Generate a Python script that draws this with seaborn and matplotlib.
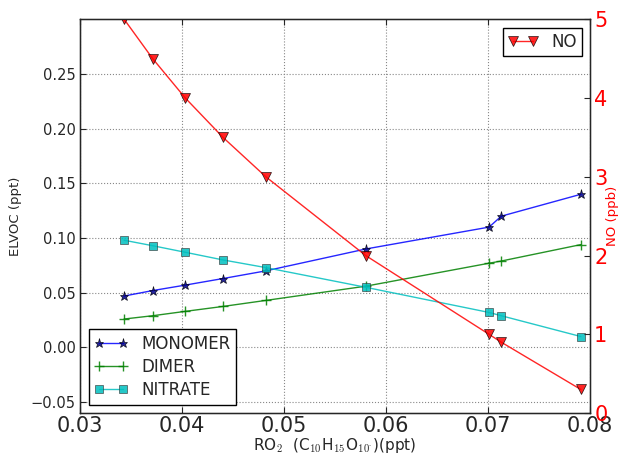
import numpy as np
import pandas as pd
import matplotlib
matplotlib.use('Agg')
import matplotlib.pyplot as plt
import seaborn as sns

# values
ro2 = [0.0343, 0.0371, 0.0403, 0.0440, 0.0482, 0.0580, 0.0701, 0.0713, 0.0791]
monomer = [0.047, 0.052, 0.057, 0.063, 0.070, 0.090, 0.110, 0.120, 0.140]
dimer = [0.026, 0.029, 0.033, 0.0375, 0.043, 0.056, 0.077, 0.079, 0.094]
nitrate = [0.098, 0.093, 0.087, 0.080, 0.073, 0.055, 0.032, 0.029, 0.010]
no_ppb = [5.0, 4.5, 4.0, 3.5, 3.0, 2.0, 1.0, 0.9, 0.3]

x_ticks = [0.03, 0.04, 0.05, 0.06, 0.07, 0.08]
y_ticks = [-0.05, 0.00, 0.05, 0.10, 0.15, 0.20, 0.25]
no_ticks = [0, 1, 2, 3, 4, 5]

df = pd.DataFrame({'RO2': ro2, 'MONOMER': monomer, 'DIMER': dimer,
                   'NITRATE': nitrate, 'NO': no_ppb})

sns.set_style('white')
plt.rcParams['font.family'] = ['DejaVu Sans']
plt.rcParams['mathtext.fontset'] = 'cm'
plt.rcParams['xtick.direction'] = 'in'
plt.rcParams['ytick.direction'] = 'in'

fig = plt.figure(figsize=(6.27, 4.57), dpi=100)
ax = fig.add_axes([0.128, 0.096, 0.813, 0.862])

# left axis: ELVOC
sns.lineplot(data=df, x='RO2', y='MONOMER', ax=ax, color='b', lw=1, alpha=0.85, marker='*',
             markersize=6.5, mfc='#00008b', mec='k', mew=0.5, label='MONOMER')
sns.lineplot(data=df, x='RO2', y='DIMER', ax=ax, color='g', lw=1, alpha=0.85, marker='+',
             markersize=6.5, mec='g', mew=1, label='DIMER')
sns.lineplot(data=df, x='RO2', y='NITRATE', ax=ax, color='c', lw=1, alpha=0.85, marker='s',
             markersize=5.5, mfc='#00bfbf', mec='#333333', mew=0.5, label='NITRATE')

ax.set_xlim(0.03, 0.08)
ax.set_ylim(-0.06, 0.3)
ax.set_xticks(x_ticks)
ax.set_xticklabels(['%.2f' % v for v in x_ticks], fontsize=15)
ax.set_yticks(y_ticks)
ax.set_yticklabels(['%.2f' % v if v >= 0 else '\u2212%.2f' % -v for v in y_ticks], fontsize=10.5)
ax.set_xlabel(r'RO$_2$  (C$_{10}$H$_{15}$O$_{10^{\cdot}}$)(ppt)', fontsize=11, labelpad=0)
ax.set_ylabel('ELVOC (ppt)', fontsize=9.5, labelpad=6)
ax.grid(True, color='#888888', linestyle=':', linewidth=0.8)
ax.tick_params(axis='x', top=True, bottom=True, length=4, width=0.8, pad=2)
ax.tick_params(axis='y', left=True, length=4, width=0.8)
for s in ax.spines.values():
    s.set_color('k')
    s.set_linewidth(1)
leg = ax.legend(loc='lower left', fontsize=12, numpoints=2, fancybox=False,
                framealpha=1, edgecolor='k', handlelength=2, labelspacing=0.3,
                borderpad=0.35)
leg.get_frame().set_linewidth(1)

# right axis: NO
ax2 = ax.twinx()
sns.lineplot(data=df, x='RO2', y='NO', ax=ax2, color='r', lw=1, alpha=0.85, marker='v',
             markersize=6.5, mfc='r', mec='k', mew=0.5, label='NO')
ax2.set_ylim(0, 5)
ax2.set_yticks(no_ticks)
ax2.set_yticklabels([str(v) for v in no_ticks], fontsize=15, color='r')
ax2.set_ylabel('NO (ppb)', fontsize=9.5, color='r', labelpad=-1)
ax2.tick_params(axis='y', right=True, length=4, width=0.8, direction='in', pad=3)
ax2.set_xlim(0.03, 0.08)
leg2 = ax2.legend(loc='upper right', fontsize=12, numpoints=2, fancybox=False,
                  framealpha=1, edgecolor='k', handlelength=1.8, borderpad=0.3)
leg2.get_frame().set_linewidth(1)

fig.savefig('out.png', dpi=100)
